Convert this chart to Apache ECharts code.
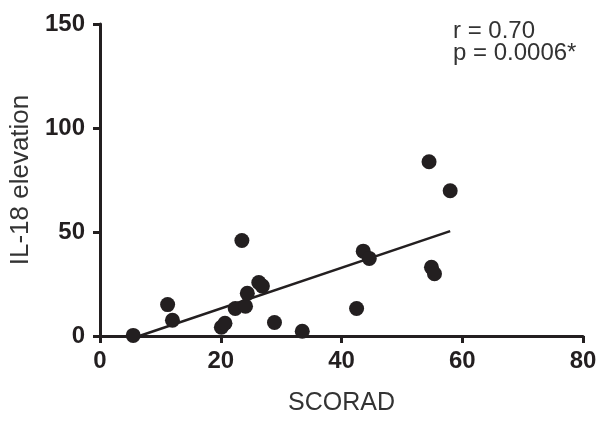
<!DOCTYPE html>
<html>
<head>
<meta charset="utf-8">
<script src="https://cdn.jsdelivr.net/npm/echarts@6/dist/echarts.min.js"></script>
<style>html,body{margin:0;padding:0;background:#fff}#c{width:606px;height:421px}</style>
</head>
<body>
<div id="c"></div>
<script>
var scoradX = [5.5, 11.2, 12.0, 20.1, 20.7, 22.4, 23.5, 24.1, 24.4, 26.3, 26.9, 28.9, 33.5, 42.5, 43.6, 44.6, 54.5, 54.9, 55.4, 58.0];
var il18Y   = [0.3, 15.1, 7.6, 4.2, 6.1, 13.2, 45.9, 14.3, 20.5, 25.7, 24.0, 6.5, 2.3, 13.2, 40.8, 37.3, 83.8, 33.0, 29.9, 69.8];
var fitX = [6.5, 58.0];
var fitY = [0, 50.4];
var xTicks = [0, 20, 40, 60, 80];
var yTicks = [0, 50, 100, 150];
var statText = ['r = 0.70', 'p = 0.0006*'];

var ink = '#231f20';
var pts = scoradX.map(function (x, i) { return [x, il18Y[i]]; });
var fit = fitX.map(function (x, i) { return [x, fitY[i]]; });

var chart = echarts.init(document.getElementById('c'), null, {renderer: 'canvas'});
chart.setOption({
  animation: false,
  backgroundColor: '#fff',
  grid: {left: 100, right: 23, top: 24, bottom: 75, containLabel: false},
  xAxis: {
    type: 'value', min: xTicks[0], max: xTicks[xTicks.length - 1], interval: 20,
    name: 'SCORAD', nameLocation: 'middle', nameGap: 55,
    nameTextStyle: {fontFamily: 'Liberation Sans, Arial', fontSize: 25, color: '#333'},
    axisLine: {show: true, lineStyle: {color: ink, width: 3}},
    axisTick: {show: true, length: 7, lineStyle: {color: ink, width: 3}},
    axisLabel: {fontFamily: 'Liberation Sans, Arial', fontWeight: 'bold', fontSize: 24, color: ink, margin: 13},
    splitLine: {show: false}
  },
  yAxis: {
    type: 'value', min: yTicks[0], max: yTicks[yTicks.length - 1], interval: 50,
    name: 'IL-18 elevation', nameLocation: 'middle', nameGap: 63,
    nameTextStyle: {fontFamily: 'Liberation Sans, Arial', fontSize: 26, color: '#333'},
    axisLine: {show: true, lineStyle: {color: ink, width: 3}},
    axisTick: {show: true, length: 7, lineStyle: {color: ink, width: 3}},
    axisLabel: {fontFamily: 'Liberation Sans, Arial', fontWeight: 'bold', fontSize: 24, color: ink, margin: 15},
    splitLine: {show: false}
  },
  graphic: [{
    type: 'text', left: 453, top: 19,
    style: {text: statText.join('\n'), font: '24px "Liberation Sans", Arial', fill: '#333', lineHeight: 22}
  }],
  series: [
    {type: 'line', data: fit, showSymbol: false, symbol: 'none', lineStyle: {color: ink, width: 2.5}, z: 2},
    {type: 'scatter', data: pts, symbolSize: 15, itemStyle: {color: ink, opacity: 1}, z: 3}
  ]
});
</script>
</body>
</html>
